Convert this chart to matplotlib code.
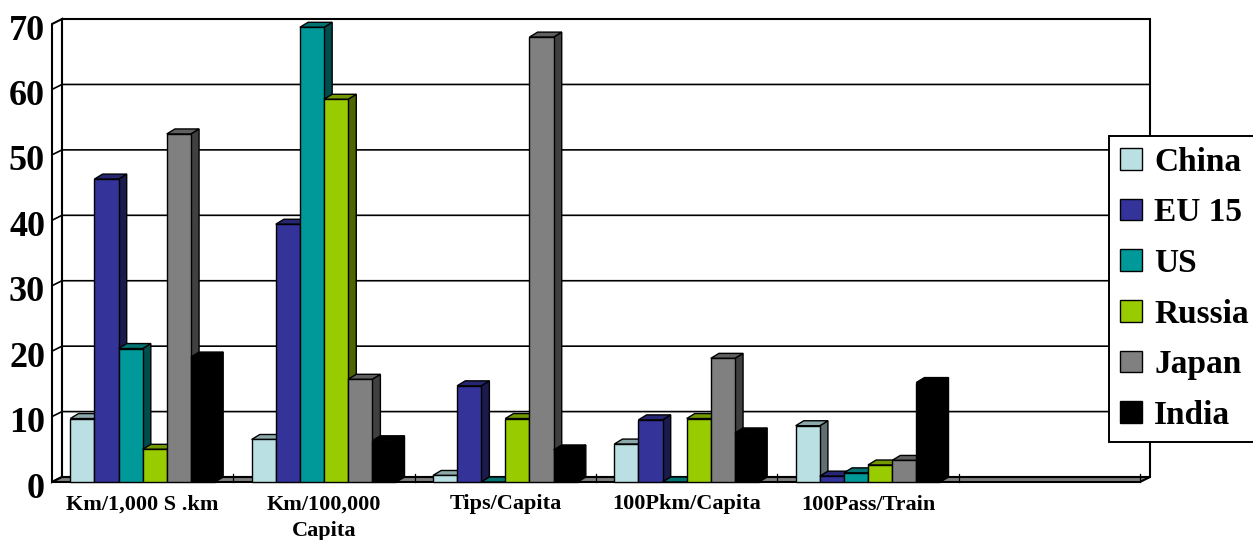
import matplotlib.pyplot as plt
from matplotlib.patches import Polygon, Rectangle
from matplotlib.transforms import ScaledTranslation

plt.rcParams['font.family'] = ['Liberation Serif', 'DejaVu Serif']
plt.rcParams['font.weight'] = 'bold'

categories = ["Km/1,000 S .km", "Km/100,000\nCapita", "Tips/Capita",
              "100Pkm/Capita", "100Pass/Train", ""]
countries = ["China", "EU 15", "US", "Russia", "Japan", "India"]

china = [9.7, 6.5, 1.0, 5.8, 8.6]
eu15 = [46.3, 39.4, 14.7, 9.5, 0.9]
us = [20.4, 69.5, 0.0, 0.0, 1.4]
russia = [5.0, 58.5, 9.7, 9.7, 2.6]
japan = [53.2, 15.7, 68.0, 18.9, 3.3]
india = [19.1, 6.3, 4.9, 7.5, 15.2]

series = [china, eu15, us, russia, japan, india]
colors = ['#BBE0E3', '#333399', '#009999', '#99CC00', '#808080', '#000000']

# depth of the fake 3d box, in data units
WX, WY = 0.055, 0.76
DX, DY = 0.045, 0.76
BAR_W = 0.133
YMAX = 70


def shade(c, f):
    c = c.lstrip('#')
    r, g, b = (int(c[i:i + 2], 16) / 255 for i in (0, 2, 4))
    return (r * f, g * f, b * f)


def bar3d(ax, x0, h, color, z):
    w = BAR_W
    front = Rectangle((x0, 0), w, h, fc=color, ec='black', lw=1.0, zorder=z, clip_on=False)
    top = Polygon([(x0, h), (x0 + DX, h + DY), (x0 + w + DX, h + DY), (x0 + w, h)],
                  closed=True, fc=shade(color, 0.75), ec='black', lw=1.0, zorder=z, clip_on=False)
    side = Polygon([(x0 + w, 0), (x0 + w + DX, DY), (x0 + w + DX, h + DY), (x0 + w, h)],
                   closed=True, fc=shade(color, 0.5), ec='black', lw=1.0, zorder=z, clip_on=False)
    for p in (side, top, front):
        ax.add_patch(p)


fig = plt.figure(figsize=(12.53, 5.40), dpi=100)
ax = fig.add_axes([52 / 1253, 58 / 540, 1088 / 1253, 458 / 540])
ax.set_xlim(-0.5, len(categories) - 0.5)
ax.set_ylim(0, YMAX)
ax.patch.set_visible(False)
for s in ax.spines.values():
    s.set_visible(False)

x_left, x_right = -0.5, len(categories) - 0.5

# walls and floor
ax.add_patch(Rectangle((x_left + WX, WY), x_right - x_left, YMAX, fc='white', ec='black',
                       lw=1.5, zorder=0, clip_on=False))
ax.add_patch(Polygon([(x_left, 0), (x_left + WX, WY), (x_left + WX, YMAX + WY), (x_left, YMAX)],
                     closed=True, fc='white', ec='black', lw=1.5, zorder=0, clip_on=False))
for v in range(10, YMAX, 10):
    ax.plot([x_left, x_left + WX, x_right + WX], [v, v + WY, v + WY], color='black',
            lw=1.2, zorder=1, clip_on=False)
ax.add_patch(Polygon([(x_left, 0), (x_right, 0), (x_right + WX, WY), (x_left + WX, WY)],
                     closed=True, fc='#808080', ec='black', lw=1.5, zorder=2, clip_on=False))
for k in range(1, len(categories) + 1):
    ax.plot([x_left + k, x_left + k], [0, WY + 0.4], color='black', lw=0.9, zorder=2,
            clip_on=False)

# bars, drawn left to right so each front face hides the previous side face
n = len(series)
for i in range(len(china)):
    for j, vals in enumerate(series):
        x0 = i + (j - n / 2) * BAR_W
        bar3d(ax, x0, vals[i], colors[j], 3 + i * n + j)

ax.set_yticks(range(0, YMAX + 1, 10))
ax.set_xticks(range(len(categories)))
ax.set_xticklabels(categories, fontsize=16, fontweight='bold', linespacing=1.45)
ax.tick_params(axis='x', length=0, pad=9)
ax.tick_params(axis='y', length=0, pad=5, labelsize=26)
down = ScaledTranslation(0, -3 / 100, fig.dpi_scale_trans)
for lbl in ax.get_yticklabels():
    lbl.set_transform(lbl.get_transform() + down)

handles = [Rectangle((0, 0), 1, 1, fc=c, ec='black', lw=1.0) for c in colors]
leg = fig.legend(handles, countries, loc='upper left', bbox_to_anchor=(1109 / 1253, 1 - 136 / 540),
                 prop={'size': 24, 'weight': 'bold'}, frameon=True, fancybox=False,
                 framealpha=1, edgecolor='black', handlelength=0.68, handleheight=0.62,
                 handletextpad=0.35, labelspacing=0.59, borderpad=0.32, borderaxespad=0)
leg.get_frame().set_linewidth(1.4)

fig.savefig('out.png', dpi=100)
